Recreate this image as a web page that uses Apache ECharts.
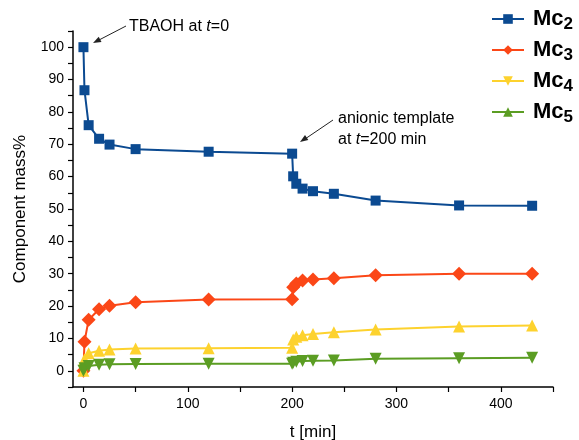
<!DOCTYPE html>
<html>
<head>
<meta charset="utf-8">
<script src="https://cdn.jsdelivr.net/npm/echarts@6/dist/echarts.min.js"></script>
<style>html,body{margin:0;padding:0;background:#fff;}#c{width:579px;height:440px;}</style>
</head>
<body>
<div id="c"></div>
<script>
// ---- data ----
var times = [0, 1, 5, 15, 25, 50, 120, 200, 201, 204, 210, 220, 240, 280, 360, 430];
var mc2 = [100, 86.7, 75.9, 71.7, 69.9, 68.5, 67.7, 67.1, 60.1, 57.8, 56.3, 55.5, 54.7, 52.6, 51.1, 51.0];
var mc3 = [0, 9.0, 15.8, 19.0, 20.1, 21.2, 22.0, 22.1, 25.8, 27.0, 27.9, 28.2, 28.6, 29.5, 30.0, 30.0];
var mc4 = [0, 3.6, 5.4, 6.2, 6.6, 6.9, 7.0, 7.1, 9.7, 10.5, 11.0, 11.4, 11.9, 12.8, 13.7, 14.0];
var mc5 = [0, 0.8, 1.5, 1.9, 2.0, 2.1, 2.2, 2.2, 2.5, 2.8, 3.0, 3.1, 3.2, 3.7, 3.9, 4.0];
var seriesNames = ['Mc2', 'Mc3', 'Mc4', 'Mc5'];
var xTickValues = [0, 50, 100, 150, 200, 250, 300, 350, 400, 450];
var xTickLabels = [0, 100, 200, 300, 400];
var yTickValues = [-5, 0, 5, 10, 15, 20, 25, 30, 35, 40, 45, 50, 55, 60, 65, 70, 75, 80, 85, 90, 95, 100, 105];
var yTickLabels = [0, 10, 20, 30, 40, 50, 60, 70, 80, 90, 100];

var colors = ['#0b4a91', '#fb4717', '#fdd22e', '#5b9d23'];
var downTri = 'path://M0,0L20,0L10,18Z';
var upTri = 'path://M10,0L20,18L0,18Z';

function pts(vals, sym) {
  return vals.map(function (v, i) {
    var o = { value: [times[i], v] };
    if (sym) o.symbol = sym;
    return o;
  });
}

var chart = echarts.init(document.getElementById('c'), null, { renderer: 'canvas' });
var FONT = 'Liberation Sans, Arial, Helvetica, sans-serif';

function lineSeries(i, data, symbol, size) {
  return {
    name: seriesNames[i],
    type: 'line',
    data: data,
    symbol: symbol,
    symbolSize: size,
    showAllSymbol: true,
    lineStyle: { color: colors[i], width: 2 },
    itemStyle: { color: colors[i] },
    emphasis: { disabled: true },
    animation: false,
    clip: false
  };
}

var option = {
  animation: false,
  textStyle: { fontFamily: FONT },
  grid: { left: 73, right: 26, top: 31, bottom: 53, containLabel: false, outerBoundsMode: 'none' },
  legend: {
    orient: 'vertical',
    left: 486,
    top: 3,
    itemWidth: 32,
    itemHeight: 12,
    itemGap: 6,
    data: seriesNames,
    selectedMode: false,
    formatter: function (name) { return '{m|Mc}{s|' + name.slice(2) + '}'; },
    textStyle: {
      rich: {
        m: { fontSize: 22, fontWeight: 'bold', color: '#000', fontFamily: FONT, padding: [0, 0, 0, 4] },
        s: { fontSize: 17, fontWeight: 'bold', color: '#000', fontFamily: FONT, padding: [11, 0, 0, 0] }
      }
    }
  },
  xAxis: {
    type: 'value',
    min: -10,
    max: 450,
    name: 't [min]',
    nameLocation: 'middle',
    nameGap: 37,
    nameTextStyle: { fontSize: 17, color: '#000', fontFamily: FONT },
    splitLine: { show: false },
    axisLine: { show: true, onZero: false, lineStyle: { color: '#000', width: 1.5 } },
    axisTick: { show: true, length: 5, customValues: xTickValues, lineStyle: { color: '#000', width: 1.2 } },
    axisLabel: { customValues: xTickLabels, fontSize: 14, color: '#000', margin: 10, fontFamily: FONT }
  },
  yAxis: {
    type: 'value',
    min: -5,
    max: 105,
    name: 'Component mass%',
    nameLocation: 'middle',
    nameGap: 44,
    nameTextStyle: { fontSize: 17, color: '#000', fontFamily: FONT },
    splitLine: { show: false },
    axisLine: { show: true, onZero: false, lineStyle: { color: '#000', width: 1.5 } },
    axisTick: { show: true, length: 5, customValues: yTickValues, lineStyle: { color: '#000', width: 1.2 } },
    axisLabel: { customValues: yTickLabels, fontSize: 14, color: '#000', margin: 9, fontFamily: FONT }
  },
  series: [
    lineSeries(0, pts(mc2), 'rect', 10),
    lineSeries(1, pts(mc3), 'diamond', 14),
    lineSeries(2, pts(mc4, upTri), downTri, 12),
    lineSeries(3, pts(mc5, downTri), upTri, 12)
  ],
  graphic: [
    { type: 'text', left: 129, top: 19, silent: true,
      style: { text: '{n|TBAOH at }{i|t}{n|=0}', fill: '#000',
        rich: { n: { fontSize: 16, fontFamily: FONT, fill: '#000' }, i: { fontSize: 16, fontStyle: 'italic', fontFamily: FONT, fill: '#000' } } } },
    { type: 'line', silent: true, shape: { x1: 126, y1: 26, x2: 99, y2: 40 }, style: { stroke: '#222', lineWidth: 1 } },
    { type: 'polygon', silent: true, shape: { points: [[93, 43], [101.5, 42.0], [98.7, 36.7]] }, style: { fill: '#222' } },
    { type: 'text', left: 338, top: 111, silent: true,
      style: { text: '{n|anionic template}\n{n|at }{i|t}{n|=200 min}', fill: '#000',
        rich: { n: { fontSize: 16, lineHeight: 21, fontFamily: FONT, fill: '#000' }, i: { fontSize: 16, lineHeight: 21, fontStyle: 'italic', fontFamily: FONT, fill: '#000' } } } },
    { type: 'line', silent: true, shape: { x1: 333, y1: 120, x2: 305, y2: 139 }, style: { stroke: '#222', lineWidth: 1 } },
    { type: 'polygon', silent: true, shape: { points: [[300, 142], [308.3, 140.1], [305, 135.1]] }, style: { fill: '#222' } }
  ]
};
chart.setOption(option);
</script>
</body>
</html>
